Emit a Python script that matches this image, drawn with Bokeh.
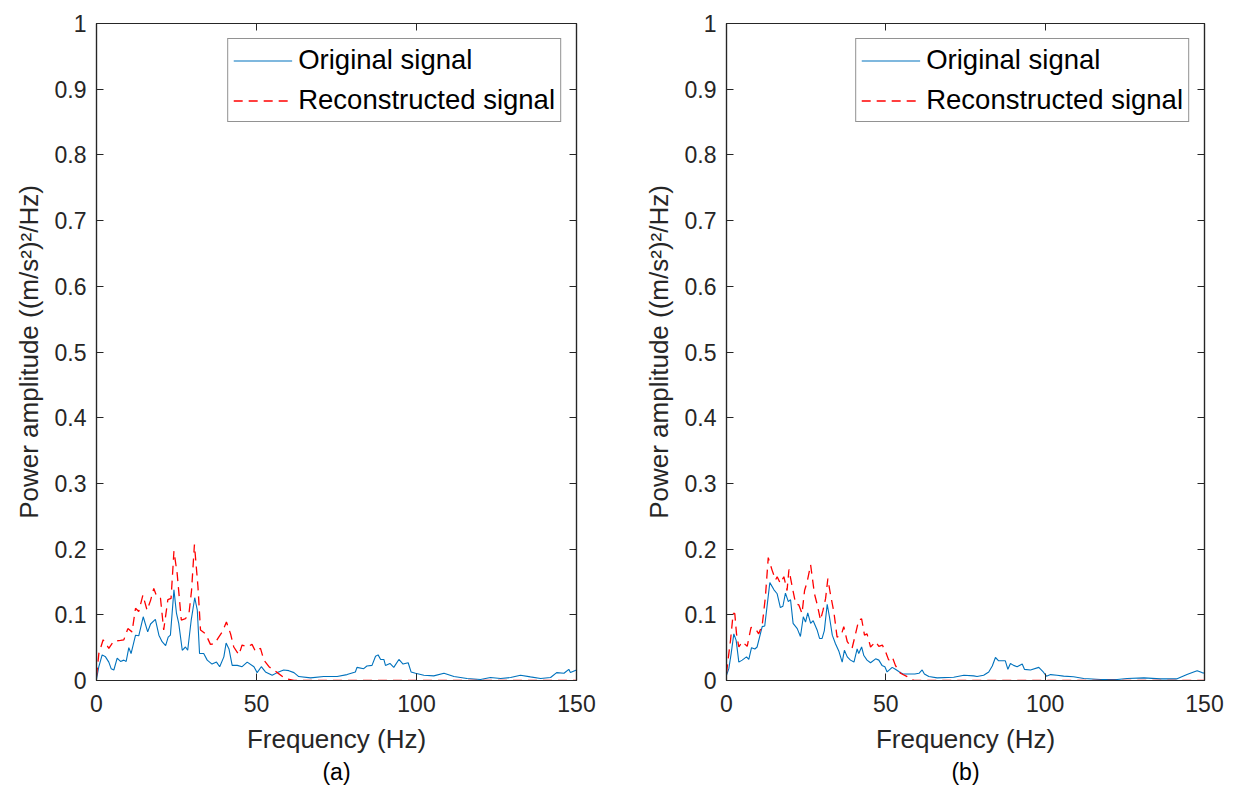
from bokeh.plotting import figure
from bokeh.layouts import row
from bokeh.models import (Range1d, FixedTicker, LinearAxis, NumeralTickFormatter,
                          Legend, LegendItem, Title)
from bokeh.embed import file_html
from bokeh.resources import INLINE

# ---------------- data ----------------
x_ticks = [0, 50, 100, 150]
y_ticks = [0, 0.1, 0.2, 0.3, 0.4, 0.5, 0.6, 0.7, 0.8, 0.9, 1.0]

# panel (a) original
fa_orig = [0, 0.73, 1.77, 2.81, 3.85, 4.58, 5.42, 6.46, 7.5, 8.54, 9.27, 10.1, 10.8, 12.2, 13.2,
           14.6, 16.0, 16.9, 18.4, 19.5, 20.5, 21.6, 22.4, 23.1, 24.2, 25.0, 25.7, 26.8, 27.8,
           28.5, 29.6, 30.7, 31.5, 32.2, 33.5, 34.6, 36.1, 37.5, 38.5, 39.8, 40.5, 41.4, 42.4,
           44.0, 45.5, 47.1, 49.2, 50.2, 51.5, 52.8, 54.9, 56.5, 58.5, 60.1, 61.7, 63.2, 66.9,
           71.0, 75.2, 78.3, 80.9, 81.4, 83.5, 84.5, 86.1, 87.2, 88.0, 88.8, 89.8, 90.3, 91.7,
           92.9, 94.5, 95.8, 97.4, 98.3, 99.7, 102.3, 105.4, 108.6, 111.7, 115.8, 120.0, 123.1,
           126.3, 129.4, 132.5, 135.6, 138.8, 141.9, 143.8, 146.1, 147.6, 148.1, 150.0]
pa_orig = [0.002, 0.021, 0.039, 0.036, 0.028, 0.018, 0.016, 0.034, 0.029, 0.031, 0.029, 0.050,
           0.041, 0.069, 0.068, 0.097, 0.074, 0.086, 0.093, 0.069, 0.059, 0.053, 0.066, 0.069,
           0.138, 0.102, 0.087, 0.046, 0.051, 0.046, 0.092, 0.126, 0.107, 0.041, 0.041, 0.031,
           0.025, 0.028, 0.021, 0.036, 0.057, 0.048, 0.023, 0.023, 0.021, 0.028, 0.021, 0.012,
           0.021, 0.013, 0.008, 0.012, 0.016, 0.015, 0.012, 0.006, 0.004, 0.006, 0.006, 0.009,
           0.013, 0.020, 0.018, 0.022, 0.023, 0.037, 0.039, 0.032, 0.032, 0.023, 0.026, 0.020,
           0.032, 0.025, 0.027, 0.013, 0.011, 0.008, 0.007, 0.011, 0.006, 0.003, 0.0015, 0.0045,
           0.003, 0.0045, 0.008, 0.0055, 0.003, 0.0045, 0.012, 0.011, 0.017, 0.012, 0.016]

# panel (a) reconstructed
fa_rec = [0, 0.73, 2.08, 3.33, 3.85, 5.42, 7.5, 8.54, 9.8, 11.1, 12.2, 13.2, 14.5, 15.8, 16.9,
          17.9, 18.9, 20.0, 21.0, 22.3, 23.3, 24.2, 25.2, 26.5, 27.8, 28.9, 29.7, 30.6, 31.7,
          32.5, 34.1, 35.6, 36.9, 38.2, 39.3, 40.6, 41.9, 42.9, 44.5, 45.5, 47.1, 48.6, 49.7,
          51.25, 52.3, 53.9, 56.5, 59.0, 61.7, 80.0, 100.0, 120.0, 150.0]
pa_rec = [0.006, 0.041, 0.062, 0.053, 0.049, 0.060, 0.061, 0.062, 0.079, 0.074, 0.110, 0.105,
          0.130, 0.107, 0.122, 0.140, 0.127, 0.125, 0.077, 0.123, 0.125, 0.197, 0.163, 0.092,
          0.094, 0.102, 0.137, 0.207, 0.143, 0.077, 0.071, 0.055, 0.056, 0.066, 0.074, 0.089,
          0.071, 0.051, 0.039, 0.054, 0.051, 0.055, 0.044, 0.049, 0.031, 0.021, 0.012, 0.003,
          0.0, 0.0, 0.0, 0.0, 0.0]

# panel (b) original
fb_orig = [0, 0.73, 1.46, 2.3, 3.03, 3.87, 4.92, 6.28, 7.0, 7.85, 8.9, 9.6, 11.2, 12.0, 13.6,
           14.9, 15.9, 16.9, 17.7, 18.5, 19.4, 20.1, 20.9, 22.2, 23.2, 24.1, 24.8, 25.5, 26.4,
           27.2, 28.5, 29.2, 30.0, 30.7, 31.6, 32.3, 33.2, 34.2, 35.3, 36.3, 37.0, 37.9, 38.9,
           40.0, 41.0, 41.5, 42.4, 43.1, 44.1, 45.2, 46.8, 47.8, 48.8, 49.7, 50.4, 52.0, 53.0,
           54.3, 55.4, 57.2, 59.1, 60.4, 61.4, 62.1, 63.5, 66.1, 71.3, 74.5, 77.6, 78.6, 80.7,
           82.3, 83.4, 84.4, 85.4, 87.5, 88.3, 89.1, 90.1, 91.2, 92.8, 93.5, 95.4, 98.0, 99.4,
           100.4, 101.7, 103.7, 105.8, 108.9, 112.1, 117.4, 122.6, 125.7, 131.0, 136.2, 141.4,
           144.5, 146.6, 147.7, 149.2, 150.0]
pb_orig = [0.008, 0.018, 0.041, 0.071, 0.061, 0.028, 0.031, 0.036, 0.032, 0.050, 0.048, 0.051,
           0.082, 0.083, 0.149, 0.138, 0.132, 0.111, 0.113, 0.133, 0.120, 0.123, 0.087, 0.079,
           0.067, 0.097, 0.089, 0.103, 0.087, 0.091, 0.076, 0.064, 0.064, 0.076, 0.116, 0.097,
           0.069, 0.056, 0.044, 0.028, 0.046, 0.036, 0.031, 0.028, 0.048, 0.041, 0.051, 0.038,
           0.031, 0.027, 0.033, 0.031, 0.023, 0.021, 0.013, 0.020, 0.017, 0.013, 0.010, 0.010,
           0.010, 0.011, 0.016, 0.010, 0.006, 0.004, 0.005, 0.008, 0.007, 0.006, 0.008, 0.013,
           0.022, 0.035, 0.030, 0.030, 0.017, 0.026, 0.023, 0.021, 0.025, 0.017, 0.016, 0.020,
           0.013, 0.0066, 0.009, 0.008, 0.0066, 0.0056, 0.003, 0.0015, 0.0015, 0.003, 0.004,
           0.0025, 0.0025, 0.009, 0.013, 0.015, 0.012, 0.011]

# panel (b) reconstructed
fb_rec = [0, 0.73, 1.26, 2.09, 2.6, 3.14, 3.87, 4.92, 6.5, 7.7, 9.1, 10.1, 11.2, 12.2, 13.1,
          14.3, 15.4, 15.9, 16.9, 18.0, 19.0, 19.6, 20.6, 21.7, 22.7, 23.7, 24.5, 25.3, 26.4,
          27.6, 28.5, 29.5, 30.3, 31.1, 31.8, 32.6, 33.7, 34.7, 36.0, 36.8, 37.9, 39.4, 40.5,
          41.5, 42.4, 43.3, 44.1, 45.2, 46.8, 47.8, 48.9, 49.9, 50.9, 52.0, 53.0, 54.6, 56.7,
          58.8, 80.0, 100.0, 120.0, 150.0]
pb_rec = [0.011, 0.041, 0.061, 0.102, 0.102, 0.071, 0.051, 0.059, 0.052, 0.081, 0.079, 0.071,
          0.084, 0.127, 0.187, 0.168, 0.153, 0.158, 0.148, 0.158, 0.137, 0.169, 0.143, 0.117,
          0.115, 0.102, 0.137, 0.150, 0.176, 0.132, 0.115, 0.092, 0.107, 0.125, 0.155, 0.132,
          0.104, 0.066, 0.069, 0.082, 0.059, 0.049, 0.071, 0.092, 0.094, 0.069, 0.071, 0.051,
          0.059, 0.052, 0.054, 0.044, 0.031, 0.036, 0.023, 0.011, 0.006, 0.0, 0.0, 0.0, 0.0, 0.0]

series_labels = ["Original signal", "Reconstructed signal"]
panel_labels = ["(a)", "(b)"]
x_label = "Frequency (Hz)"
y_label = "Power amplitude ((m/s\u00b2)\u00b2/Hz)"

FONT = "Liberation Sans"
TXT = "#262626"
BLUE = "#0072BD"
RED = "#FF0000"


def style_axis(ax, show_labels=True):
    ax.major_tick_in = 7
    ax.major_tick_out = 0
    ax.minor_tick_line_color = None
    ax.axis_line_color = "#262626"
    ax.major_tick_line_color = "#262626"
    ax.axis_line_width = 1.2
    ax.major_label_text_font = FONT
    ax.axis_label_text_font = FONT
    ax.axis_label_text_color = TXT
    ax.axis_label_text_font_style = "normal"
    if show_labels:
        ax.major_label_text_color = TXT
        ax.major_label_text_font_size = "23px"
        ax.axis_label_text_font_size = "26px"
    else:
        ax.major_label_text_color = None
        ax.major_label_text_font_size = "10px"
        ax.major_label_standoff = 0


def make_panel(f_o, p_o, f_r, p_r, tag, width, left, right):
    p = figure(width=width, height=789, output_backend="svg", toolbar_location=None,
               x_range=Range1d(0, 150), y_range=Range1d(0, 1),
               min_border_left=left, min_border_right=right,
               min_border_top=23, min_border_bottom=109,
               background_fill_color="white", border_fill_color="white")
    p.grid.visible = False
    p.outline_line_color = "#262626"
    p.outline_line_width = 1.2

    p.xaxis.ticker = FixedTicker(ticks=x_ticks)
    p.yaxis.ticker = FixedTicker(ticks=y_ticks)
    p.yaxis.formatter = NumeralTickFormatter(format="0.[0]")
    p.xaxis.axis_label = x_label
    p.yaxis.axis_label = y_label
    style_axis(p.xaxis[0])
    style_axis(p.yaxis[0])
    p.xaxis.major_label_standoff = 14
    p.xaxis.axis_label_standoff = 9
    p.yaxis.major_label_standoff = 10
    p.yaxis.axis_label_standoff = 8

    top = LinearAxis(ticker=FixedTicker(ticks=x_ticks))
    rgt = LinearAxis(ticker=FixedTicker(ticks=y_ticks))
    style_axis(top, False)
    style_axis(rgt, False)
    p.add_layout(top, "above")
    p.add_layout(rgt, "right")

    r1 = p.line(f_o, p_o, line_color=BLUE, line_width=1.1)
    r2 = p.line(f_r, p_r, line_color=RED, line_width=1.3, line_dash="9 6")

    leg = Legend(items=[LegendItem(label=series_labels[0], renderers=[r1]),
                        LegendItem(label=series_labels[1], renderers=[r2])],
                 location="top_right", margin=15, padding=5, spacing=8,
                 glyph_width=59, glyph_height=29, label_height=29, label_standoff=6,
                 label_text_font=FONT, label_text_font_size="27.5px", label_text_color="black",
                 border_line_color="#262626", border_line_width=1,
                 background_fill_color="white", background_fill_alpha=1)
    p.add_layout(leg)

    t = Title(text=tag, align="center", text_font=FONT, text_font_size="23px",
              text_color="black", text_font_style="normal", standoff=1)
    p.add_layout(t, "below")
    return p


p1 = make_panel(fa_orig, pa_orig, fa_rec, pa_rec, panel_labels[0], 630, 96, 54)
p2 = make_panel(fb_orig, pb_orig, fb_rec, pb_rec, panel_labels[1], 604, 96, 30)

layout = row(p1, p2)
open("out.html", "w").write(file_html(layout, INLINE))
